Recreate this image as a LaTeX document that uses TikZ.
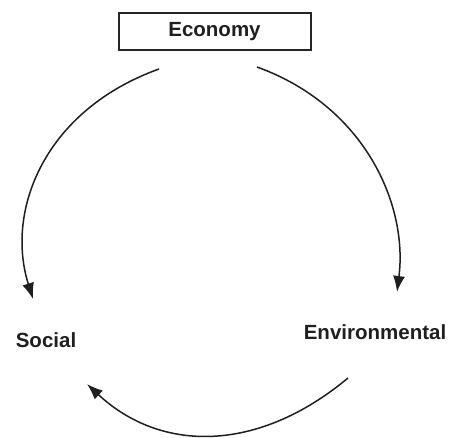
\documentclass[tikz,border=0pt]{standalone}
\usepackage{fontspec}
\setmainfont{Liberation Sans}
\usetikzlibrary{arrows.meta}

\begin{document}
\begin{tikzpicture}[x=1pt, y=-1pt,
  box/.style={draw=black!85, line width=2pt, minimum width=192pt, minimum height=37pt, inner sep=0pt},
  lbl/.style={font=\fontsize{20.5}{24}\selectfont\bfseries, text=black!88, inner sep=0pt},
  cyc/.style={draw=black!88, line width=1.5pt, -{Latex[length=16pt, width=12pt]}}]
\useasboundingbox (0,0) rectangle (452,438);
% the three pillars
\node[box, lbl] (econ) at (214.5,32) {Economy};
\node[lbl] (social) at (46,340) {Social};
\node[lbl] (env) at (375,332) {Environmental};
% free ends of the arcs
\coordinate (econL) at (159,69);
\coordinate (econR) at (257,67);
\coordinate (socT) at (33,299);
\coordinate (envT) at (397,292);
\coordinate (envB) at (348,378);
\coordinate (socB) at (87,384);
% cycle of arrows
\draw[cyc] (econL) .. controls (45,110) and (5,210) .. (socT);
\draw[cyc] (econR) .. controls (365,106) and (408,205) .. (envT);
\draw[cyc] (envB) .. controls (258,453) and (161,453) .. (socB);
\end{tikzpicture}
\end{document}
